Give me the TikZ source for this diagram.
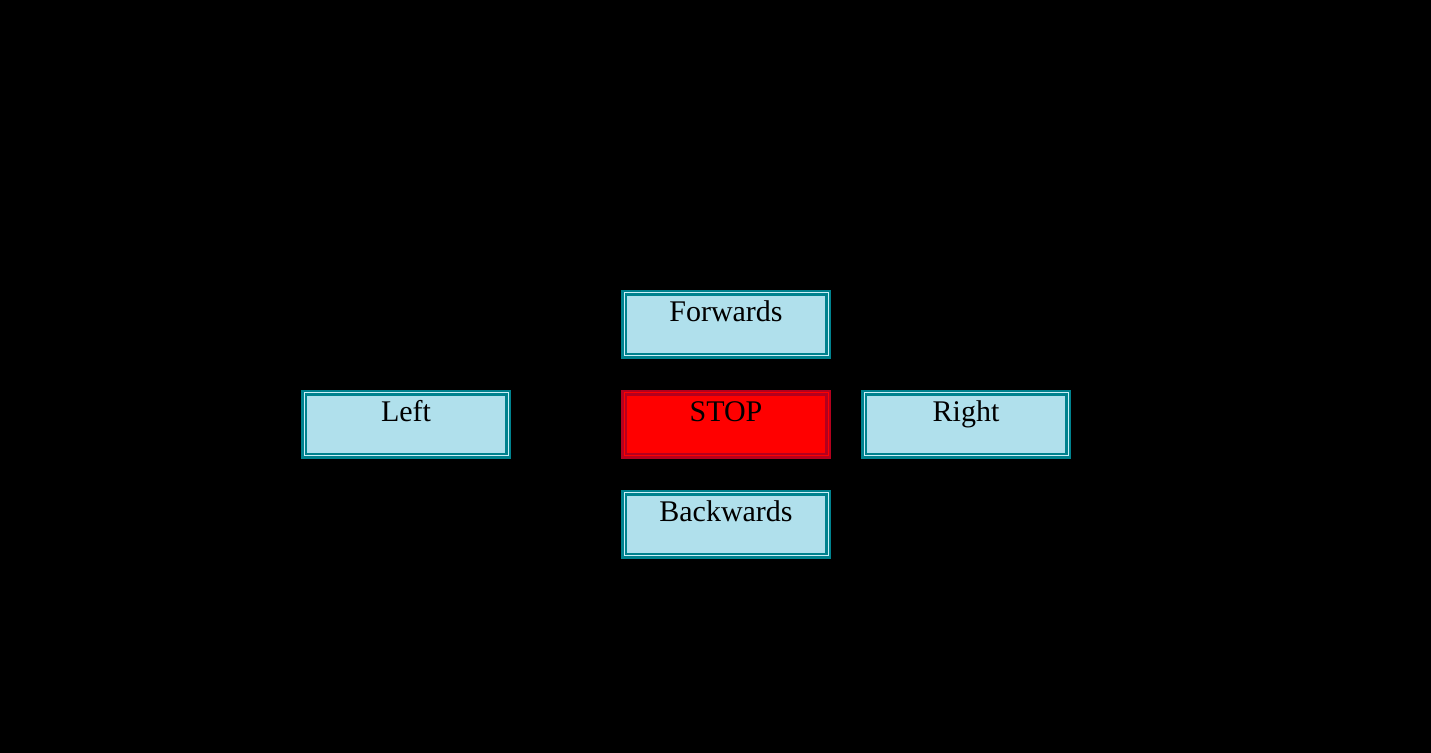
\documentclass[tikz,border=0pt]{standalone}
\usepackage{fontspec}
\setmainfont{Liberation Serif}
\usepackage{xcolor}
\usetikzlibrary{positioning}
\definecolor{btnedge}{RGB}{0,130,142}
\definecolor{btnfill}{RGB}{176,224,236}
\definecolor{btngap}{RGB}{205,240,248}
\definecolor{stopedge}{RGB}{180,0,30}
\tikzset{
  btn/.style={draw=btnedge, double=btngap, line width=1.25pt, double distance=0.5pt,
    fill=btnfill, minimum width=102pt, inner xsep=0pt, inner ysep=0pt, outer sep=0pt,
    text height=14.5pt, text depth=17pt, font=\fontsize{15}{18}\selectfont},
  stopbtn/.style={btn, draw=stopedge, double=red, fill=red}
}
\begin{document}
\begin{tikzpicture}[x=0.5pt,y=-0.5pt]
    % Background
    \fill[black] (0,0) rectangle (1431,753);

    % Buttons
    \node[stopbtn] (stop) at (726,424.5) {STOP};
    \node[btn] (fwd) at (726,324.5) {Forwards};
    \node[btn] (back) at (726,524.5) {Backwards};
    \node[btn] (left) at (406,424.5) {Left};
    \node[btn] (right) at (966,424.5) {Right};
\end{tikzpicture}
\end{document}
